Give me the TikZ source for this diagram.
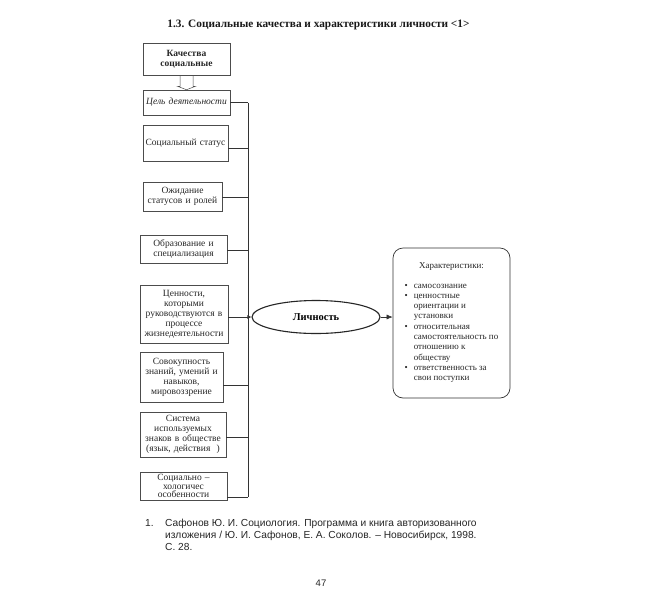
\documentclass[tikz,border=0pt]{standalone}
\usepackage{fontspec}
\setmainfont{Liberation Serif}
\newfontfamily\ftsans{Liberation Sans}
\usetikzlibrary{shapes.geometric,arrows.meta,calc}
\begin{document}
\begin{tikzpicture}[x=1pt,y=-1pt,
  lbox/.style={draw=black!70, line width=0.5pt, inner sep=0.5pt, align=center,
    font=\fontsize{9.5}{10}\selectfont, text=black!85},
  link/.style={draw=black!80, line width=0.6pt},
  fnote/.style={anchor=base west, inner sep=0pt, font=\ftsans\fontsize{10.2}{12}\selectfont, text=black!85},
]
\useasboundingbox[fill=white] (0,0) rectangle (650,611);

% title
\node[font=\bfseries\fontsize{11.3}{13}\selectfont, text=black!90] (title) at (318.5,25)
  {1.3. Социальные качества и характеристики личности <1>};

% left boxes
\node[lbox, minimum height=32pt, text width=86pt] (top) at (186.5,59)
  {\textbf{Качества}\\\textbf{социальные}};
\node[lbox, minimum height=25pt, text width=86pt] (goal) at (186.5,102.5)
  {\textit{Цель деятельности}};
\node[lbox, minimum height=36pt, text width=84pt] (status) at (185.5,143)
  {Социальный статус};
\node[lbox, minimum height=29pt, text width=78pt] (expect) at (182.5,196.5)
  {Ожидание\\статусов и ролей};
\node[lbox, minimum height=28pt, text width=86pt] (edu) at (183.5,249)
  {Образование и\\специализация};
\node[lbox, minimum height=58pt, text width=87pt] (values) at (184,314)
  {Ценности,\\которыми\\руководствуются в\\процессе\\жизнедеятельности};
\node[lbox, minimum height=50pt, text width=82pt] (sum) at (181.5,377)
  {Совокупность\\знаний, умений и\\навыков,\\мировоззрение};
\node[lbox, minimum height=45pt, text width=85pt] (sys) at (183,434.5)
  {Система\\используемых\\знаков в обществе\\(язык, действия\ \ )};
\node[lbox, minimum height=28pt, text width=86pt, font=\fontsize{9.5}{8.8}\selectfont] (socpsy) at (183.5,486)
  {Социально –\\хологичес\\особенности};

% hollow arrow from top to goal
\draw[black!70, line width=0.5pt]
  ($(top.south)+(-6.5,0)$) -- ($(top.south)+(-6.5,11)$) -- ($(top.south)+(-9,11)$)
  -- (goal.north) -- ($(top.south)+(9,11)$) -- ($(top.south)+(6.5,11)$)
  -- ($(top.south)+(6.5,0)$);

% junctions on the vertical line
\coordinate (j1) at (248,102.5);
\coordinate (j2) at (248,148);
\coordinate (j3) at (248,197);
\coordinate (j4) at (248,250);
\coordinate (j5) at (248,317);
\coordinate (j6) at (248,385);
\coordinate (j7) at (248,437);
\coordinate (j8) at (248,497);

\draw[link] (j1) -- (j8);
\draw[link] (goal.east |- j1) -- (j1);
\draw[link] (status.east |- j2) -- (j2);
\draw[link] (expect.east |- j3) -- (j3);
\draw[link] (edu.east |- j4) -- (j4);
\draw[link] (values.east |- j5) -- (j5);
\draw[link] (sum.east |- j6) -- (j6);
\draw[link] (sys.east |- j7) -- (j7);
\draw[link] (socpsy.east |- j8) -- (j8);

% person ellipse
\node[ellipse, draw=black!85, line width=1.1pt, minimum width=128pt, minimum height=33pt,
  inner sep=0pt, font=\bfseries\fontsize{10.5}{12}\selectfont] (pers) at (316,317) {Личность};

% characteristics box
\node[draw=black!80, line width=0.7pt, rounded corners=10pt, minimum width=117pt,
  minimum height=150pt, inner sep=0pt] (ch) at (451.5,323) {};
\node[anchor=north, inner sep=0pt, font=\fontsize{9}{10.3}\selectfont, text=black!85]
  (chtext) at ($(ch.north)+(0,13)$)
  {\begin{tabular}{@{}l@{\hspace{6pt}}l@{}}
   \multicolumn{2}{c}{Характеристики:}\\[9.7pt]
   \textbullet & самосознание\\
   \textbullet & ценностные\\
               & ориентации и\\
               & установки\\
   \textbullet & относительная\\
               & самостоятельность по\\
               & отношению к\\
               & обществу\\
   \textbullet & ответственность за\\
               & свои поступки
   \end{tabular}};

\draw[link, -{Latex[length=4pt,width=4pt]}] (j5) -- (pers.west);
\draw[link, -{Latex[length=6pt,width=5pt]}] (pers.east) -- (pers.east -| ch.west);

% footnote
\node[fnote] (fn0) at (145,526) {1.};
\node[fnote] (fn1) at (165,526) {Сафонов Ю. И. Социология. Программа и книга авторизованного};
\node[fnote] (fn2) at (165,538) {изложения / Ю. И. Сафонов, Е. А. Соколов. – Новосибирск, 1998.};
\node[fnote] (fn3) at (165,550) {С. 28.};

% page number
\node[font=\ftsans\fontsize{9.5}{11}\selectfont, text=black!85] (pg) at (321,583) {47};
\end{tikzpicture}
\end{document}
